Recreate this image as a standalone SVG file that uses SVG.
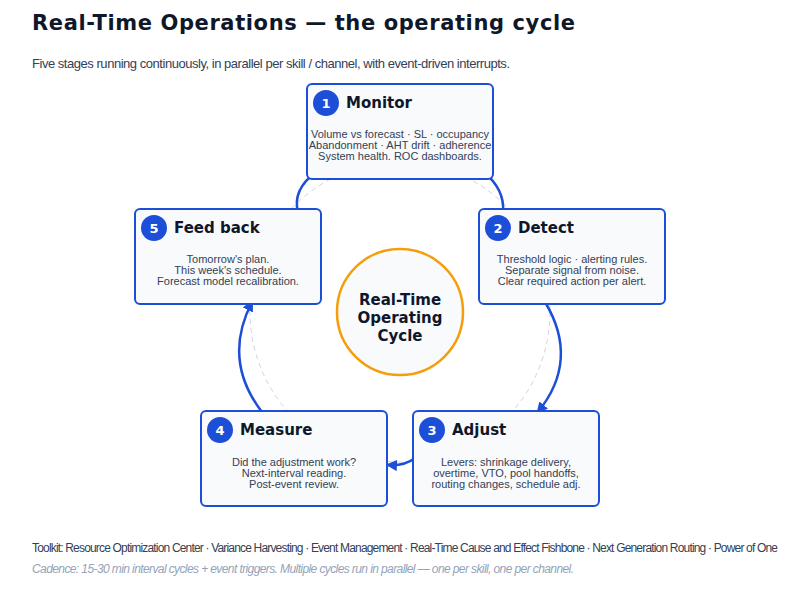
<svg xmlns="http://www.w3.org/2000/svg" width="800" height="589" viewBox="0 0 800 589">
<style>
text{font-family:"Liberation Sans",Arial,sans-serif}
.box{fill:#f8fafc;stroke:#1d4ed8;stroke-width:2}
.badge{fill:#1d4ed8}
.bn{fill:#fff;font-size:13px;font-weight:bold;text-anchor:middle;font-family:"DejaVu Sans",sans-serif}
.h{fill:#0f172a;font-size:15px;font-weight:bold;font-family:"DejaVu Sans",sans-serif}
.b{fill:#334155;font-size:11px;text-anchor:middle}
.c{fill:none;stroke:#1d4ed8;stroke-width:2.5}
</style>
<defs><marker id="ah" viewBox="0 0 10 10" refX="8" refY="5" markerWidth="4.5" markerHeight="4.5" orient="auto"><path d="M0,0L10,5L0,10z" fill="#1d4ed8"/></marker></defs>
<rect width="800" height="589" fill="#fff"/>
<text x="32" y="30" font-size="21" font-weight="bold" fill="#0f172a" style="font-family:'DejaVu Sans',sans-serif" textLength="543">Real-Time Operations — the operating cycle</text>
<text x="32" y="68" font-size="13" fill="#334155" textLength="478">Five stages running continuously, in parallel per skill / channel, with event-driven interrupts.</text>
<circle cx="400" cy="312" r="150" fill="none" stroke="#cbd5e1" stroke-width="1" stroke-dasharray="5,4"/>
<g id="connectors">
<path class="c" d="M298 212 Q292 190 316 172"/>
<path class="c" d="M484 172 Q505 190 503 212"/>
<path class="c" d="M545 302 Q580 360 538 412" marker-end="url(#ah)"/>
<path class="c" d="M415 458 Q405 466 388 465" marker-end="url(#ah)"/>
<path class="c" d="M262 412 Q222 360 252 302" marker-end="url(#ah)"/>
</g>
<g id="center"><circle cx="400" cy="312" r="63" fill="#f8fafc" stroke="#f59e0b" stroke-width="2.5"/>
<text x="400" y="305" text-anchor="middle" font-size="15" font-weight="bold" fill="#0f172a" style="font-family:'DejaVu Sans',sans-serif">Real-Time</text>
<text x="400" y="323" text-anchor="middle" font-size="15" font-weight="bold" fill="#0f172a" style="font-family:'DejaVu Sans',sans-serif">Operating</text>
<text x="400" y="341" text-anchor="middle" font-size="15" font-weight="bold" fill="#0f172a" style="font-family:'DejaVu Sans',sans-serif">Cycle</text></g>
<g id="monitor"><rect class="box" x="307" y="84" width="186" height="95" rx="5"/><circle class="badge" cx="326" cy="103" r="13"/><text class="bn" x="326" y="108">1</text><text class="h" x="346" y="108">Monitor</text>
<text class="b" x="400" y="138">Volume vs forecast · SL · occupancy</text><text class="b" x="400" y="149">Abandonment · AHT drift · adherence</text><text class="b" x="400" y="160">System health.  ROC dashboards.</text></g>
<g id="detect"><rect class="box" x="479" y="209" width="186" height="95" rx="5"/><circle class="badge" cx="498" cy="228" r="13"/><text class="bn" x="498" y="233">2</text><text class="h" x="518" y="233">Detect</text>
<text class="b" x="572" y="263">Threshold logic · alerting rules.</text><text class="b" x="572" y="274">Separate signal from noise.</text><text class="b" x="572" y="285">Clear required action per alert.</text></g>
<g id="adjust"><rect class="box" x="413" y="411" width="186" height="95" rx="5"/><circle class="badge" cx="432" cy="430" r="13"/><text class="bn" x="432" y="435">3</text><text class="h" x="452" y="435">Adjust</text>
<text class="b" x="506" y="466">Levers: shrinkage delivery,</text><text class="b" x="506" y="477">overtime, VTO, pool handoffs,</text><text class="b" x="506" y="488">routing changes, schedule adj.</text></g>
<g id="measure"><rect class="box" x="201" y="411" width="186" height="95" rx="5"/><circle class="badge" cx="220" cy="430" r="13"/><text class="bn" x="220" y="435">4</text><text class="h" x="240" y="435">Measure</text>
<text class="b" x="294" y="466">Did the adjustment work?</text><text class="b" x="294" y="477">Next-interval reading.</text><text class="b" x="294" y="488">Post-event review.</text></g>
<g id="feedback"><rect class="box" x="135" y="209" width="186" height="95" rx="5"/><circle class="badge" cx="154" cy="228" r="13"/><text class="bn" x="154" y="233">5</text><text class="h" x="174" y="233">Feed back</text>
<text class="b" x="228" y="263">Tomorrow's plan.</text><text class="b" x="228" y="274">This week's schedule.</text><text class="b" x="228" y="285">Forecast model recalibration.</text></g>
<text x="32" y="552" font-size="12" fill="#334155" textLength="746">Toolkit: Resource Optimization Center · Variance Harvesting · Event Management · Real-Time Cause and Effect Fishbone · Next Generation Routing · Power of One</text>
<text x="32" y="573" font-size="12" font-style="italic" fill="#94a3b8" textLength="542">Cadence: 15-30 min interval cycles + event triggers.  Multiple cycles run in parallel — one per skill, one per channel.</text>
</svg>
